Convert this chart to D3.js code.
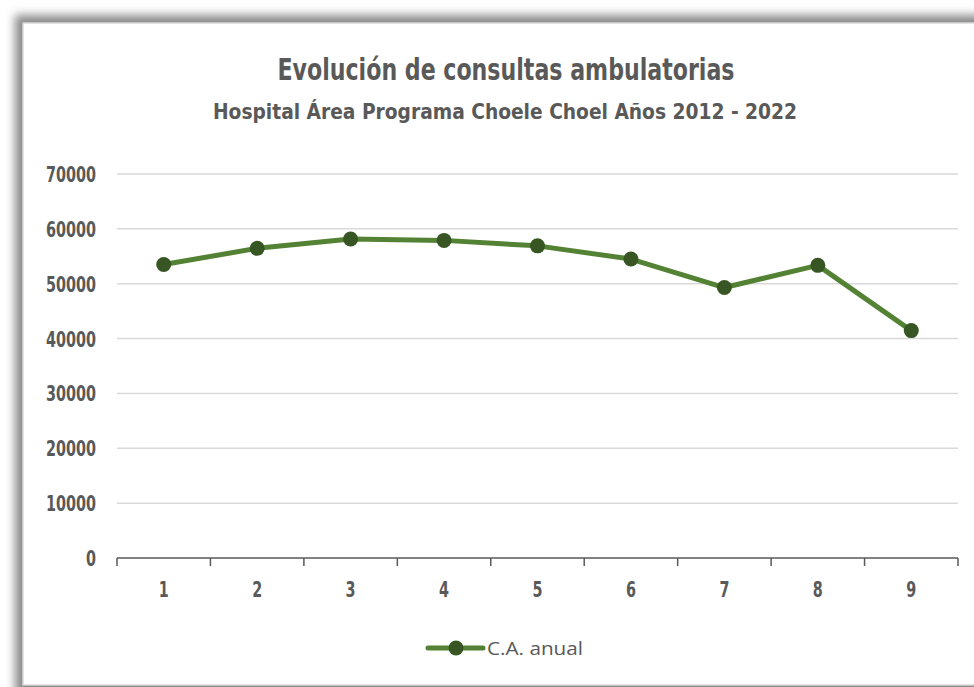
<!DOCTYPE html>
<html>
<head>
<meta charset="utf-8">
<script src="https://cdn.jsdelivr.net/npm/d3@7"></script>
<style>
  html, body { margin: 0; padding: 0; background: #fff; }
  svg { display: block; }
</style>
</head>
<body>
<div id="chart"></div>
<script>
// datos
const categorias = ['1', '2', '3', '4', '5', '6', '7', '8', '9'];
const consultas = [53500, 56450, 58150, 57900, 56900, 54500, 49300, 53350, 41450];
const ticksY = [0, 10000, 20000, 30000, 40000, 50000, 60000, 70000];
const serieNombre = 'C.A. anual';
const titulo = 'Evolución de consultas ambulatorias';
const subtitulo = 'Hospital Área Programa Choele Choel Años 2012 - 2022';

const width = 974, height = 687;
const margin = { left: 117, right: 16, top: 174, bottom: 129 };
const gris = '#595959';
const fuente = '"DejaVu Sans Condensed", "DejaVu Sans", sans-serif';

const svg = d3.select('#chart')
    .append('svg')
    .attr('width', width)
    .attr('height', height);

// sombra del marco
const defs = svg.append('defs');
defs.append('filter')
    .attr('id', 'sombra')
    .attr('x', '-10%').attr('y', '-10%')
    .attr('width', '120%').attr('height', '120%')
    .append('feGaussianBlur')
    .attr('stdDeviation', 5);

svg.append('rect')
    .attr('x', 15).attr('y', 15)
    .attr('width', 1000).attr('height', 700)
    .attr('fill', '#8a8a8a')
    .attr('filter', 'url(#sombra)');

svg.append('rect')
    .attr('x', 23).attr('y', 23)
    .attr('width', 990).attr('height', 662)
    .attr('fill', '#fff')
    .attr('stroke', '#d9d9d9')
    .attr('stroke-width', 1.5);

// escalas
const x = d3.scaleBand()
    .domain(categorias)
    .range([margin.left, width - margin.right]);

const y = d3.scaleLinear()
    .domain([0, 70000])
    .range([height - margin.bottom, margin.top]);

// líneas de cuadrícula
svg.append('g')
    .selectAll('line')
    .data(ticksY.filter(d => d > 0))
    .enter()
    .append('line')
    .attr('x1', margin.left)
    .attr('x2', width - margin.right)
    .attr('y1', d => y(d))
    .attr('y2', d => y(d))
    .attr('stroke', '#d9d9d9')
    .attr('stroke-width', 1.5);

// eje Y (solo etiquetas)
const ejeY = svg.append('g')
    .attr('transform', `translate(${margin.left},0)`)
    .call(d3.axisLeft(y).tickValues(ticksY).tickFormat(d3.format('d')).tickSize(0).tickPadding(21));
ejeY.select('.domain').remove();
ejeY.selectAll('text')
    .attr('fill', gris)
    .attr('font-family', fuente)
    .attr('font-weight', 'bold')
    .attr('font-size', 21.5)
    .attr('dy', '0.35em')
    .attr('textLength', d => String(d).length * 10)
    .attr('lengthAdjust', 'spacingAndGlyphs');

// eje X
const ejeX = svg.append('g')
    .attr('transform', `translate(0,${y(0)})`)
    .call(d3.axisBottom(x).tickSize(0).tickPadding(24));
ejeX.select('.domain')
    .attr('stroke', gris)
    .attr('stroke-width', 1.5)
    .attr('d', `M${margin.left},0H${width - margin.right}`);
ejeX.selectAll('text')
    .attr('fill', gris)
    .attr('font-family', fuente)
    .attr('font-weight', 'bold')
    .attr('font-size', 21.5)
    .attr('textLength', 10)
    .attr('lengthAdjust', 'spacingAndGlyphs');

// marcas de división entre categorías
const bordes = categorias.map(c => x(c)).concat([x.range()[1]]);
ejeX.append('g')
    .selectAll('line')
    .data(bordes)
    .enter()
    .append('line')
    .attr('x1', d => d).attr('x2', d => d)
    .attr('y1', 0).attr('y2', 8)
    .attr('stroke', gris)
    .attr('stroke-width', 1.5);

// serie
const linea = d3.line()
    .x((d, i) => x(categorias[i]) + x.bandwidth() / 2)
    .y(d => y(d));

svg.append('path')
    .datum(consultas)
    .attr('d', linea)
    .attr('fill', 'none')
    .attr('stroke', '#548235')
    .attr('stroke-width', 5)
    .attr('stroke-linejoin', 'round')
    .attr('stroke-linecap', 'round');

svg.append('g')
    .selectAll('circle')
    .data(consultas)
    .enter()
    .append('circle')
    .attr('cx', (d, i) => x(categorias[i]) + x.bandwidth() / 2)
    .attr('cy', d => y(d))
    .attr('r', 7.5)
    .attr('fill', '#375623');

// títulos
svg.append('text')
    .attr('x', 506).attr('y', 80)
    .attr('text-anchor', 'middle')
    .attr('fill', gris)
    .attr('font-family', fuente)
    .attr('font-weight', 'bold')
    .attr('font-size', 29.5)
    .attr('textLength', 457)
    .attr('lengthAdjust', 'spacingAndGlyphs')
    .text(titulo);

svg.append('text')
    .attr('x', 505).attr('y', 119)
    .attr('text-anchor', 'middle')
    .attr('fill', gris)
    .attr('font-family', fuente)
    .attr('font-weight', 'bold')
    .attr('font-size', 21.5)
    .attr('textLength', 584)
    .attr('lengthAdjust', 'spacingAndGlyphs')
    .text(subtitulo);

// leyenda
const leyenda = svg.append('g').attr('transform', 'translate(428,648)');
leyenda.append('line')
    .attr('x1', 0).attr('x2', 55)
    .attr('stroke', '#548235')
    .attr('stroke-width', 5)
    .attr('stroke-linecap', 'round');
leyenda.append('circle')
    .attr('cx', 28).attr('r', 7.5)
    .attr('fill', '#375623');
leyenda.append('text')
    .attr('x', 59).attr('y', 7)
    .attr('fill', gris)
    .attr('font-family', '"Open Sans", "Noto Sans", sans-serif')
    .attr('font-size', 19)
    .attr('textLength', 96)
    .attr('lengthAdjust', 'spacingAndGlyphs')
    .text(serieNombre);
</script>
</body>
</html>
